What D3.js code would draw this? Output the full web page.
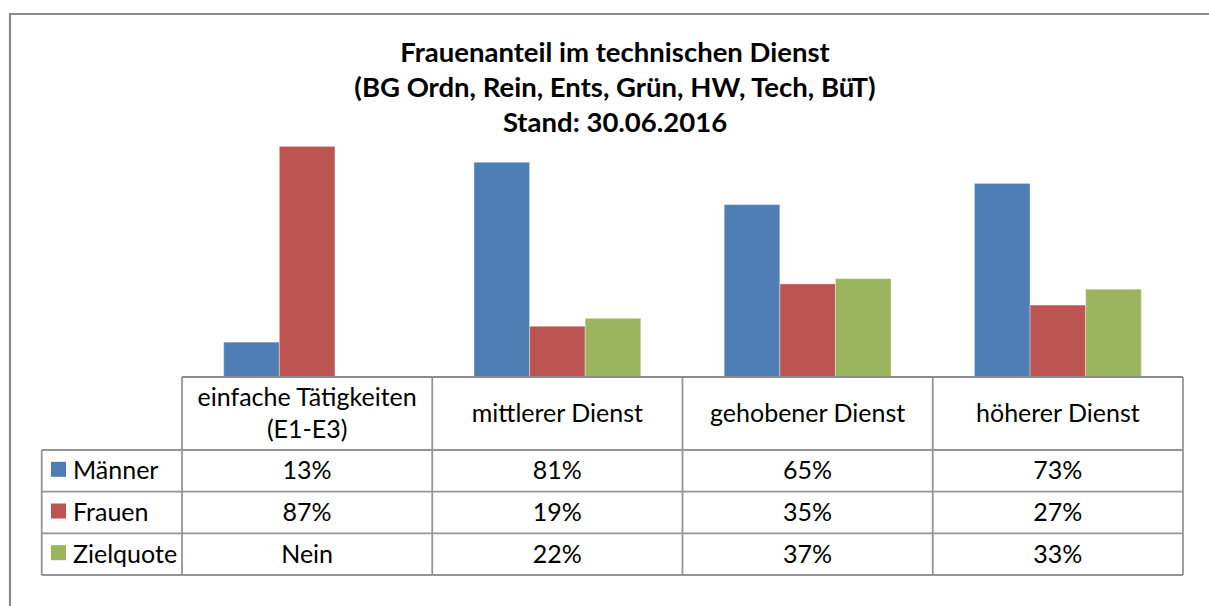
<!DOCTYPE html>
<html>
<head>
<meta charset="utf-8">
<script src="https://cdn.jsdelivr.net/npm/d3@7"></script>
<style>
  html, body { margin: 0; padding: 0; background: #fff; }
  svg { display: block; }
  text { font-family: Lato, "Open Sans", sans-serif; fill: #000; }
</style>
</head>
<body>
<svg id="chart" width="1209" height="606"></svg>
<script>
// ---- data ----
const titleLines = ["Frauenanteil im technischen Dienst", "(BG Ordn, Rein, Ents, Grün, HW, Tech, BüT)", "Stand: 30.06.2016"];
const categories = ["einfache Tätigkeiten (E1-E3)", "mittlerer Dienst", "gehobener Dienst", "höherer Dienst"];
const categoryLines = [["einfache Tätigkeiten", "(E1-E3)"], ["mittlerer Dienst"], ["gehobener Dienst"], ["höherer Dienst"]];
const seriesNames = ["Männer", "Frauen", "Zielquote"];
const maenner = [0.13, 0.81, 0.65, 0.73];
const frauen = [0.87, 0.19, 0.35, 0.27];
const zielquote = [null, 0.22, 0.37, 0.33];
const zielquoteLabels = ["Nein", "22%", "37%", "33%"];
const seriesColors = ["#4F7EB5", "#BC5552", "#9BB55E"];

// ---- layout ----
const svg = d3.select("#chart");
const W = 1209, H = 606;
const plotLeft = 182, plotRight = 1183;
const baseY = 376.5, topY = 112;
const tableLeft = 41.7;
const headerTop = 377, headerBottom = 450;
const rowH = 41.67;
const gridColor = "#959595";
const textScaleX = 1.0;

const series = [
  { name: seriesNames[0], values: maenner, labels: maenner.map(v => Math.round(v * 100) + "%"), color: seriesColors[0] },
  { name: seriesNames[1], values: frauen, labels: frauen.map(v => Math.round(v * 100) + "%"), color: seriesColors[1] },
  { name: seriesNames[2], values: zielquote, labels: zielquoteLabels, color: seriesColors[2] }
];

const x = d3.scaleBand().domain(categories).range([plotLeft, plotRight]).paddingInner(0).paddingOuter(0);
const xs = d3.scaleBand().domain(seriesNames).range([0, x.bandwidth()]).paddingInner(0).paddingOuter(0.75);
const y = d3.scaleLinear().domain([0, 1]).range([baseY, topY]);

// outer frame
svg.append("path")
  .attr("d", `M10,${H} V14 H${W}`)
  .attr("fill", "none").attr("stroke", "#8a8a8a").attr("stroke-width", 2.2);

// title
const title = svg.append("g");
titleLines.forEach((t, i) => {
  title.append("text")
    .attr("transform", `translate(615,${62 + i * 35}) scale(${textScaleX},1)`)
    .attr("text-anchor", "middle")
    .attr("font-weight", "bold")
    .attr("font-size", 27.5)
    .text(t);
});

// bars
const bars = [];
series.forEach(s => {
  categories.forEach((c, i) => {
    if (s.values[i] != null) bars.push({ cat: c, name: s.name, value: s.values[i], color: s.color });
  });
});
svg.append("g").selectAll("rect").data(bars).join("rect")
  .attr("x", d => x(d.cat) + xs(d.name))
  .attr("y", d => y(d.value))
  .attr("width", xs.bandwidth())
  .attr("height", d => y(0) - y(d.value))
  .attr("fill", d => d.color)
  .attr("stroke", "rgba(255,255,255,0.35)")
  .attr("stroke-width", 1);

// data table grid
const grid = svg.append("g").attr("fill", "none").attr("stroke", gridColor).attr("stroke-width", 1.8);
const rowYs = seriesNames.map((_, i) => headerBottom + i * rowH);
const tableBottom = headerBottom + seriesNames.length * rowH;
// axis line / header top
svg.append("line").attr("x1", plotLeft).attr("x2", plotRight).attr("y1", headerTop).attr("y2", headerTop)
  .attr("stroke", "#8a8a8a").attr("stroke-width", 2.2);
// horizontal lines
[headerBottom, ...rowYs.slice(1), tableBottom].forEach(yy => {
  grid.append("line").attr("x1", tableLeft).attr("x2", plotRight).attr("y1", yy).attr("y2", yy);
});
// vertical lines
grid.append("line").attr("x1", tableLeft).attr("x2", tableLeft).attr("y1", headerBottom).attr("y2", tableBottom);
[...categories.map(c => x(c)), plotRight].forEach(xx => {
  grid.append("line").attr("x1", xx).attr("x2", xx).attr("y1", headerTop).attr("y2", tableBottom);
});

// header texts
const fs = 25;
categories.forEach((c, i) => {
  const lines = categoryLines[i];
  const cx = x(c) + x.bandwidth() / 2;
  const lh = 32;
  const midY = (headerTop + headerBottom) / 2;
  const firstBase = midY + 8.5 - (lines.length - 1) * lh / 2;
  lines.forEach((ln, j) => {
    svg.append("text")
      .attr("transform", `translate(${cx},${firstBase + j * lh}) scale(${textScaleX},1)`)
      .attr("text-anchor", "middle")
      .attr("font-size", fs)
      .text(ln);
  });
});

// rows: legend + values
series.forEach((s, r) => {
  const top = rowYs[r];
  const cy = top + rowH / 2;
  svg.append("rect")
    .attr("x", 51).attr("y", cy - 9).attr("width", 15).attr("height", 15)
    .attr("fill", s.color);
  svg.append("text")
    .attr("transform", `translate(73,${cy + 8.5}) scale(${textScaleX},1)`)
    .attr("font-size", fs)
    .text(s.name);
  categories.forEach((c, i) => {
    svg.append("text")
      .attr("transform", `translate(${x(c) + x.bandwidth() / 2},${cy + 8.5}) scale(${textScaleX},1)`)
      .attr("text-anchor", "middle")
      .attr("font-size", fs)
      .text(s.labels[i]);
  });
});
</script>
</body>
</html>
